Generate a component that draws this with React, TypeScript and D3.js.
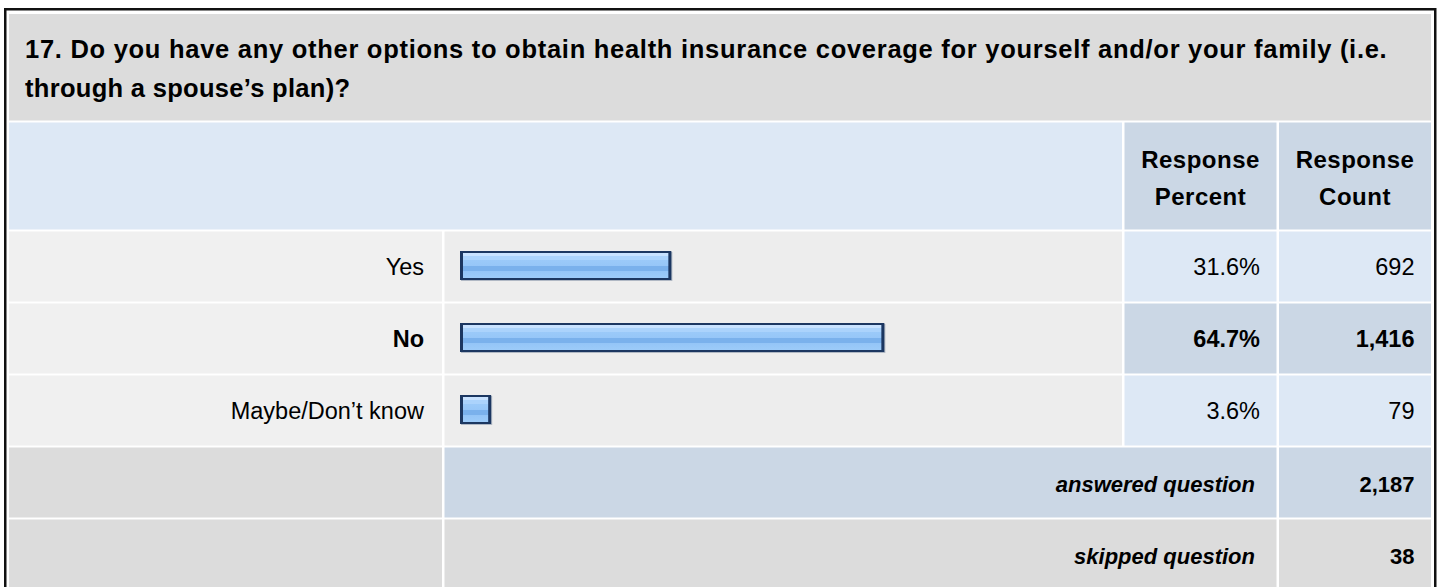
import React from "react";
import * as d3 from "d3";

// Survey question 17 — response summary table with inline bars
const questionLines = [
  "17. Do you have any other options to obtain health insurance coverage for yourself and/or your family (i.e.",
  "through a spouse\u2019s plan)?",
];
const answerLabels = ["Yes", "No", "Maybe/Don\u2019t know"];
const responsePercents = [31.6, 64.7, 3.6];
const responseCounts = [692, 1416, 79];
const headerPercent = ["Response", "Percent"];
const headerCount = ["Response", "Count"];
const answeredCount = 2187;
const skippedCount = 38;

const W = 1440;
const H = 587;
const FONT = "Arial, 'Liberation Sans', Helvetica, sans-serif";

// column edges
const colLabel = [9, 442];
const colBar = [444.5, 1122];
const colPct = [1124.5, 1276.5];
const colCnt = [1279, 1431];

const GRAY = "#dcdcdc";
const ROW_BG = "#ededed";
const LABEL_BG = "#f0f0f0";
const BLUE_LIGHT = "#dde8f5";
const BLUE_MID = "#cbd7e5";

const bodyText = {
  fontFamily: FONT,
  fontSize: 23.5,
  fill: "#000",
};

export default function App() {
  const rowKeys = [...answerLabels, "answered", "skipped"];
  const y = d3
    .scaleBand<string>()
    .domain(rowKeys)
    .range([231.5, 589.5])
    .paddingInner(2 / 72)
    .paddingOuter(0);
  const bw = y.bandwidth();

  // bar length scale (percent -> px), the bar frame adds a fixed 8px
  const x = d3.scaleLinear().domain([0, 100]).range([0, 643.5]);
  const barX0 = 460;
  const barH = 29;
  const maxIdx = d3.maxIndex(responsePercents);
  const fmtCount = d3.format(",");
  const fmtPct = (v: number) => d3.format(".1f")(v) + "%";

  return (
    <svg
      width={W}
      height={H}
      style={{ position: "absolute", left: 0, top: 0, display: "block" }}
    >
      <defs>
        <linearGradient id="barFill" x1="0" y1="0" x2="0" y2="1">
          <stop offset="0%" stopColor="#c8e2ff" />
          <stop offset="12%" stopColor="#c8e2ff" />
          <stop offset="12%" stopColor="#abd3fc" />
          <stop offset="28%" stopColor="#abd3fc" />
          <stop offset="28%" stopColor="#9bcaf9" />
          <stop offset="53%" stopColor="#96c6f8" />
          <stop offset="53%" stopColor="#7ab1ec" />
          <stop offset="73%" stopColor="#7ab1ec" />
          <stop offset="73%" stopColor="#94c5f7" />
          <stop offset="100%" stopColor="#9ccbf9" />
        </linearGradient>
      </defs>
      <rect x={0} y={0} width={W} height={H} fill="#fff" />

      {/* outer frame */}
      <rect
        x={5.25}
        y={9.25}
        width={1430}
        height={H + 20}
        fill="#fff"
        stroke="#111"
        strokeWidth={2.5}
      />

      {/* question title */}
      <rect x={colLabel[0]} y={14} width={colCnt[1] - colLabel[0]} height={106.5} fill={GRAY} />
      {questionLines.map((line, i) => (
        <text
          key={i}
          x={25}
          y={58 + i * 38.5}
          fontFamily={FONT}
          fontSize={25.5}
          fontWeight="bold"
          fill="#000"
          letterSpacing={0.3}
          {...(i === 0 ? { textLength: 1362, lengthAdjust: "spacing" } : {})}
        >
          {line}
        </text>
      ))}

      {/* header row */}
      <rect x={colLabel[0]} y={122.5} width={colBar[1] - colLabel[0]} height={107} fill={BLUE_LIGHT} />
      <rect x={colPct[0]} y={122.5} width={colPct[1] - colPct[0]} height={107} fill={BLUE_MID} />
      <rect x={colCnt[0]} y={122.5} width={colCnt[1] - colCnt[0]} height={107} fill={BLUE_MID} />
      {[
        { lines: headerPercent, col: colPct },
        { lines: headerCount, col: colCnt },
      ].map((h, i) =>
        h.lines.map((t, j) => (
          <text
            key={`${i}-${j}`}
            x={(h.col[0] + h.col[1]) / 2}
            y={168 + j * 37}
            textAnchor="middle"
            fontFamily={FONT}
            fontSize={24}
            letterSpacing={0.5}
            fontWeight="bold"
            fill="#000"
          >
            {t}
          </text>
        ))
      )}

      {/* answer rows */}
      {answerLabels.map((label, i) => {
        const top = y(label) as number;
        const bold = i === maxIdx;
        const cellBlue = bold ? BLUE_MID : BLUE_LIGHT;
        const base = top + 43;
        const bx = barX0;
        const by = top + 19.5;
        const bwid = x(responsePercents[i]) + 8;
        const weight = bold ? "bold" : "normal";
        return (
          <g key={label}>
            <rect x={colLabel[0]} y={top} width={colLabel[1] - colLabel[0]} height={bw} fill={LABEL_BG} />
            <rect x={colBar[0]} y={top} width={colBar[1] - colBar[0]} height={bw} fill={ROW_BG} />
            <rect x={colPct[0]} y={top} width={colPct[1] - colPct[0]} height={bw} fill={cellBlue} />
            <rect x={colCnt[0]} y={top} width={colCnt[1] - colCnt[0]} height={bw} fill={cellBlue} />

            {/* bar: soft shadow, navy frame, striped fill */}
            <rect x={bx + 1} y={by + 1} width={bwid} height={barH} fill="#7d8ca3" opacity={0.55} />
            <rect x={bx} y={by} width={bwid} height={barH} fill="#1c3761" />
            <rect x={bx + 3} y={by + 2} width={bwid - 6} height={barH - 4} fill="url(#barFill)" />

            <text x={424} y={base} textAnchor="end" {...bodyText} fontWeight={weight}>
              {label}
            </text>
            <text x={1260} y={base} textAnchor="end" {...bodyText} fontWeight={weight}>
              {fmtPct(responsePercents[i])}
            </text>
            <text x={1414.5} y={base} textAnchor="end" {...bodyText} fontWeight={weight}>
              {fmtCount(responseCounts[i])}
            </text>
          </g>
        );
      })}

      {/* summary rows */}
      {[
        { key: "answered", text: "answered question", value: answeredCount, fill: BLUE_MID },
        { key: "skipped", text: "skipped question", value: skippedCount, fill: GRAY },
      ].map((r) => {
        const top = y(r.key) as number;
        const base = top + 44;
        return (
          <g key={r.key}>
            <rect x={colLabel[0]} y={top} width={colLabel[1] - colLabel[0]} height={bw} fill={GRAY} />
            <rect x={colBar[0]} y={top} width={colPct[1] - colBar[0]} height={bw} fill={r.fill} />
            <rect x={colCnt[0]} y={top} width={colCnt[1] - colCnt[0]} height={bw} fill={r.fill} />
            <text x={1255} y={base} textAnchor="end" {...bodyText} fontSize={22} fontWeight="bold" fontStyle="italic">
              {r.text}
            </text>
            <text x={1414.5} y={base} textAnchor="end" {...bodyText} fontSize={22} fontWeight="bold">
              {fmtCount(r.value)}
            </text>
          </g>
        );
      })}
    </svg>
  );
}
